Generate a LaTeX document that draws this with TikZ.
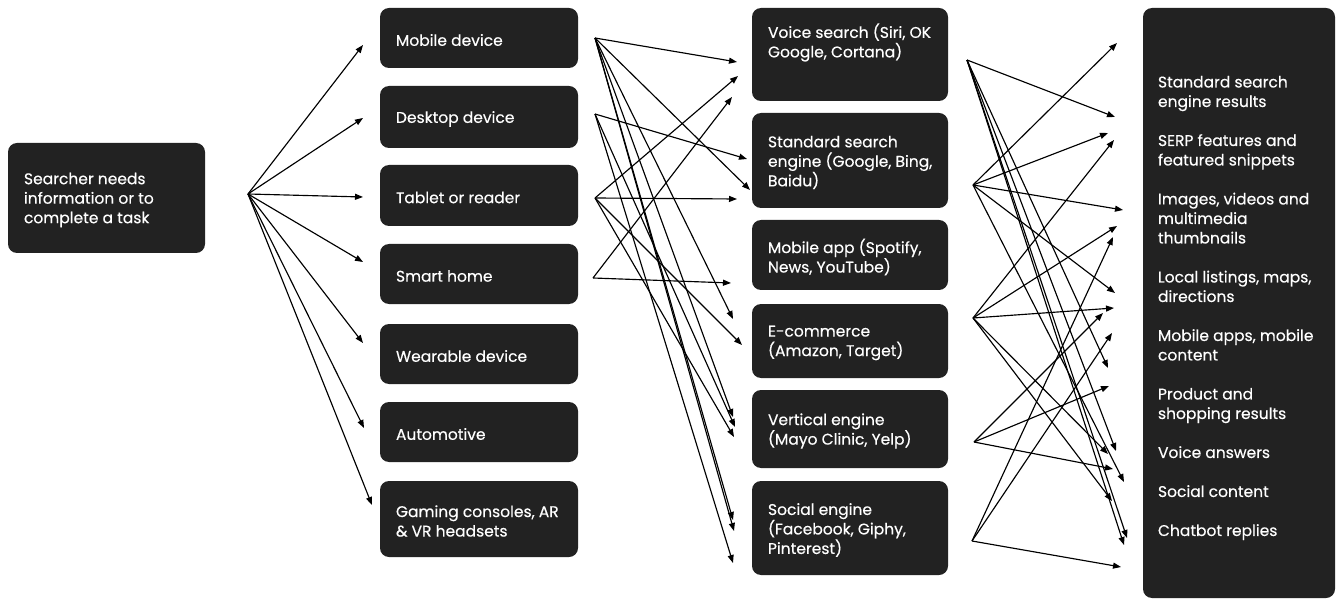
\documentclass[tikz,border=0pt]{standalone}
\usepackage{fontspec}
\setmainfont{Poppins}[FakeBold=0.35]
\usetikzlibrary{arrows.meta}
\definecolor{boxc}{HTML}{222222}
\newcommand{\mkbox}[6]{%
  \node[boxshape, minimum width={(#4-#2)*1pt}, minimum height={(#5-#3)*1pt}] (#1) at ({(#2+#4)/2},{(#3+#5)/2}) {};
  \node[lbl] (#1-t) at ([xshift=16pt,yshift=-2pt]#1.west) {#6};}
\begin{document}
\begin{tikzpicture}[x=1pt,y=-1pt,
  boxshape/.style={fill=boxc, draw=none, rounded corners=9pt, inner sep=0pt},
  lbl/.style={text=white, align=left, anchor=west, inner sep=0pt, font=\fontsize{15.5}{19.5}\selectfont},
  arr/.style={-{Triangle[length=8pt,width=6pt]}, line width=1.15pt, black}]
\useasboundingbox (0,0) rectangle (1337,601);
% boxes
\mkbox{need}{8}{143}{205}{253}{Searcher needs\\information or to\\complete a task}
\mkbox{mob}{380}{8}{578}{68}{Mobile device}
\mkbox{desk}{380}{86}{578}{148}{Desktop device}
\mkbox{tab}{380}{165}{578}{226}{Tablet or reader}
\mkbox{home}{380}{244}{578}{304}{Smart home}
\mkbox{wear}{380}{324}{578}{384}{Wearable device}
\mkbox{auto}{380}{402}{578}{462}{Automotive}
\mkbox{game}{380}{481}{578}{557}{Gaming consoles, AR\\\& VR headsets}
\node[boxshape, minimum width=196pt, minimum height=93pt] (voice) at (850,54.5) {};
\node[lbl, yshift=12pt] (voice-t) at ([xshift=16pt]voice.west) {Voice search (Siri, OK\\Google, Cortana)};
\mkbox{std}{752}{113}{948}{208}{Standard search\\engine (Google, Bing,\\Baidu)}
\mkbox{app}{752}{220}{948}{290}{Mobile app (Spotify,\\News, YouTube)}
\mkbox{ecom}{752}{304}{948}{378}{E-commerce\\(Amazon, Target)}
\mkbox{vert}{752}{390}{948}{468}{Vertical engine\\(Mayo Clinic, Yelp)}
\mkbox{soc}{752}{481}{948}{575}{Social engine\\(Facebook, Giphy,\\Pinterest)}
\node[boxshape, minimum width=192pt, minimum height=590pt] (res) at (1239,303) {};
\node[lbl] (res-t) at ([xshift=15pt,yshift=-5pt]res.west) {Standard search\\engine results\\[19.5pt]SERP features and\\featured snippets\\[19.5pt]Images, videos and\\multimedia\\thumbnails\\[19.5pt]Local listings, maps,\\directions\\[19.5pt]Mobile apps, mobile\\content\\[19.5pt]Product and\\shopping results\\[19.5pt]Voice answers\\[19.5pt]Social content\\[19.5pt]Chatbot replies};
% fan 1
\coordinate (src) at (248,194);
\coordinate (tmob) at (363,45);
\coordinate (tdesk) at (363,118);
\coordinate (ttab) at (363,197);
\coordinate (thome) at (363,262);
\coordinate (twear) at (363,343);
\coordinate (tauto) at (364,428);
\coordinate (tgame) at (372,505);
\foreach \t in {tmob,tdesk,ttab,thome,twear,tauto,tgame} \draw[arr] (src) -- (\t);
% fan 2
\coordinate (omob) at (595,38);
\coordinate (odesk) at (595,114);
\coordinate (otab) at (595,198);
\coordinate (ohome) at (593,278);
\coordinate (vA) at (737,62);
\coordinate (vB) at (738,76);
\coordinate (vC) at (732,97);
\coordinate (sA) at (747,159);
\coordinate (sB) at (750,190);
\coordinate (sC) at (737,199);
\coordinate (mA) at (731,283);
\coordinate (eA) at (733,319);
\coordinate (eB) at (742,345);
\coordinate (veA) at (733,417);
\coordinate (veB) at (735,427);
\coordinate (veC) at (734,437);
\coordinate (soA) at (733,520);
\coordinate (soB) at (734,531);
\coordinate (soC) at (733,563);
\foreach \t in {vA,sB,eA,veA,soA,soB} \draw[arr] (omob) -- (\t);
\foreach \t in {sA,veB,soC} \draw[arr] (odesk) -- (\t);
\foreach \t in {vB,sC,eB,veC} \draw[arr] (otab) -- (\t);
\foreach \t in {vC,mA} \draw[arr] (ohome) -- (\t);
% fan 3
\coordinate (ovoice) at (967,60);
\coordinate (ostd) at (973,185);
\coordinate (oecom) at (973,318);
\coordinate (overt) at (974,442);
\coordinate (osoc) at (972,541);
\coordinate (p1) at (1117,43);
\coordinate (p2) at (1115,117);
\coordinate (p3) at (1108,133);
\coordinate (p4) at (1114,140);
\coordinate (p5) at (1123,210);
\coordinate (p6) at (1117,226);
\coordinate (p7) at (1113,237);
\coordinate (p8) at (1115,293);
\coordinate (p9) at (1114,308);
\coordinate (p10) at (1103,313);
\coordinate (p11) at (1112,333);
\coordinate (p12) at (1108,368);
\coordinate (p13) at (1109,386);
\coordinate (p14) at (1116,451);
\coordinate (p15) at (1108,454);
\coordinate (p16) at (1113,469);
\coordinate (p17) at (1124,482);
\coordinate (p18) at (1112,501);
\coordinate (p19) at (1127,538);
\coordinate (p20) at (1124,545);
\coordinate (p21) at (1121,567);
\foreach \t in {p2,p12,p14,p19,p20} \draw[arr] (ovoice) -- (\t);
\foreach \t in {p1,p3,p5,p8,p17} \draw[arr] (ostd) -- (\t);
\foreach \t in {p4,p6,p9,p15,p18} \draw[arr] (oecom) -- (\t);
\foreach \t in {p10,p13,p16} \draw[arr] (overt) -- (\t);
\foreach \t in {p7,p11,p21} \draw[arr] (osoc) -- (\t);
\end{tikzpicture}
\end{document}
